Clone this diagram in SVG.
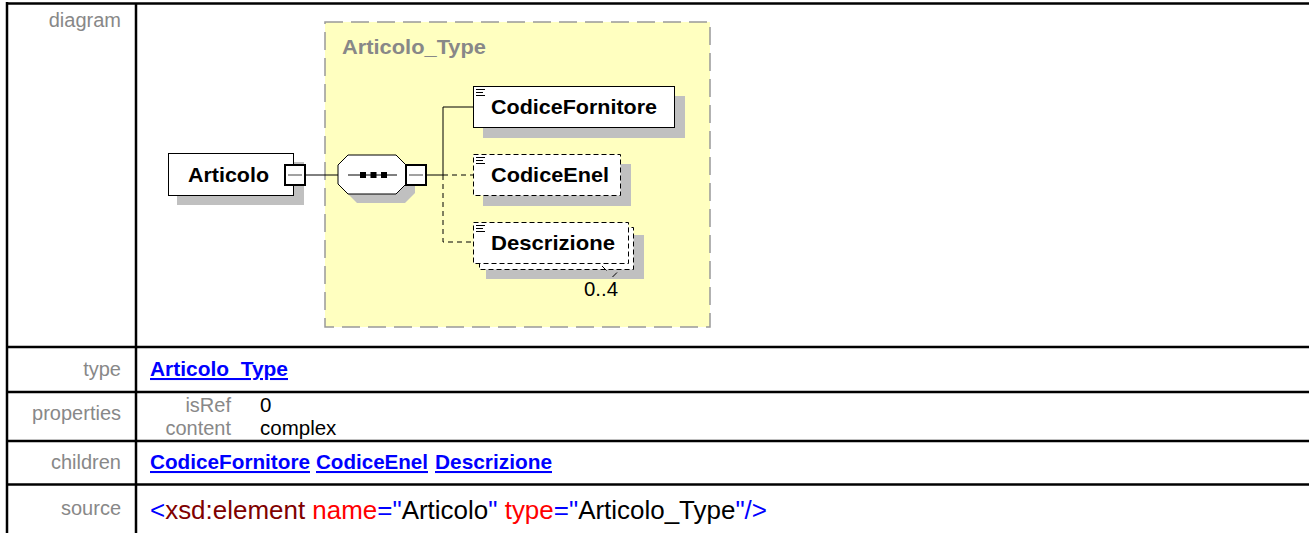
<svg xmlns="http://www.w3.org/2000/svg" width="1309" height="533" viewBox="0 0 1309 533">
<style>
.lbl{font-family:"Liberation Sans",Arial,sans-serif;font-size:20px;fill:#888;text-anchor:end}
.val{font-family:"Liberation Sans",Arial,sans-serif;font-size:20.5px;fill:#000}
.lnk{font-family:"Liberation Sans",Arial,sans-serif;font-size:20.5px;font-weight:bold;fill:#0000ff;text-decoration:underline}
.nt{font-family:"Liberation Sans",Arial,sans-serif;font-size:21px;font-weight:bold;fill:#000}
.src{font-family:"Liberation Sans",Arial,sans-serif;font-size:26px}
.grid{stroke:#000;stroke-width:2.5;fill:none}
.shadow{fill:#c0c0c0}
.box{fill:#fff;stroke:#000;stroke-width:1}
.dbox{fill:#fff;stroke:#000;stroke-width:1;stroke-dasharray:5,3}
.minus{fill:#fff;stroke:#000;stroke-width:2}
.ico{stroke:#000;stroke-width:1}
</style>
<rect x="0" y="0" width="1309" height="533" fill="#fff"/>
<g id="table" class="grid">
<line x1="6" y1="3.5" x2="1309" y2="3.5"/>
<line x1="7" y1="2" x2="7" y2="533"/>
<line x1="136" y1="3" x2="136" y2="533"/>
<line x1="7" y1="347" x2="1309" y2="347"/>
<line x1="7" y1="392" x2="1309" y2="392"/>
<line x1="7" y1="441" x2="1309" y2="441"/>
<line x1="7" y1="484.5" x2="1309" y2="484.5"/>
</g>
<g id="labels">
<text class="lbl" x="121" y="27">diagram</text>
<text class="lbl" x="121" y="376">type</text>
<text class="lbl" x="121" y="420">properties</text>
<text class="lbl" x="121" y="469">children</text>
<text class="lbl" x="121" y="515">source</text>
</g>
<g id="group-Articolo_Type">
<rect x="325" y="22" width="385" height="305" fill="#ffffc0" stroke="#999" stroke-width="1.5" stroke-dasharray="18,8"/>
<text class="nt" x="342" y="54" fill="#888" style="fill:#888" textLength="144" lengthAdjust="spacingAndGlyphs">Articolo_Type</text>
</g>
<g id="connectors" fill="none" stroke="#000" stroke-width="1">
<line x1="305" y1="175" x2="338" y2="175"/>
<path d="M426,175 H443 M443,175 V107 H473"/>
<path d="M443,175 H473 M443,175 V242 H473" stroke-dasharray="5,4"/>
</g>
<g id="node-Articolo">
<rect class="shadow" x="177" y="162" width="127" height="43"/>
<rect class="box" x="168.5" y="153.5" width="125" height="42"/>
<text class="nt" x="188" y="182" textLength="81" lengthAdjust="spacingAndGlyphs">Articolo</text>
<rect class="minus" x="285" y="165" width="20" height="20"/>
<line x1="288" y1="175" x2="302" y2="175" stroke="#444" stroke-width="1"/>
</g>
<g id="node-sequence">
<polygon class="shadow" points="357,164 405,164 415,174 415,193 405,203 357,203 347,193 347,174"/>
<polygon points="348,155 396,155 406,165 406,184 396,194 348,194 338,184 338,165" fill="#fff" stroke="#000" stroke-width="1"/>
<line x1="348" y1="175" x2="397" y2="175" stroke="#000" stroke-width="1"/>
<rect x="360" y="172" width="6" height="6" fill="#000"/>
<rect x="370.5" y="172" width="6" height="6" fill="#000"/>
<rect x="381" y="172" width="6" height="6" fill="#000"/>
<rect class="minus" x="406" y="165" width="20" height="20"/>
<line x1="409" y1="175" x2="423" y2="175" stroke="#444" stroke-width="1"/>
</g>
<g id="node-CodiceFornitore">
<rect class="shadow" x="483" y="96" width="202" height="42"/>
<rect class="box" x="473.5" y="86.5" width="201" height="41"/>
<path class="ico" d="M476,89.5 H485 M476,92.5 H483 M476,95.5 H485"/>
<text class="nt" x="491" y="114" textLength="166" lengthAdjust="spacingAndGlyphs">CodiceFornitore</text>
</g>
<g id="node-CodiceEnel">
<rect class="shadow" x="483" y="164" width="148" height="42"/>
<rect class="dbox" x="473.5" y="154.5" width="147" height="41"/>
<path class="ico" d="M476,157.5 H485 M476,160.5 H483 M476,163.5 H485"/>
<text class="nt" x="491" y="182" textLength="118" lengthAdjust="spacingAndGlyphs">CodiceEnel</text>
</g>
<g id="node-Descrizione">
<rect class="shadow" x="486" y="235" width="158" height="44"/>
<rect class="dbox" x="479.5" y="227.5" width="154" height="42"/>
<rect class="dbox" x="473.5" y="222.5" width="155" height="41"/>
<path class="ico" d="M476,225.5 H485 M476,228.5 H483 M476,231.5 H485"/>
<text class="nt" x="491" y="250" textLength="124" lengthAdjust="spacingAndGlyphs">Descrizione</text>
<path d="M602,266 L606.5,270.5 M612.5,277 L617,272.5" stroke="#000" stroke-width="1" fill="none"/>
<text class="val" x="584" y="296" textLength="34" lengthAdjust="spacingAndGlyphs">0..4</text>
</g>
<g id="values">
<text class="lnk" x="150" y="376" textLength="138" lengthAdjust="spacingAndGlyphs">Articolo_Type</text>
<text class="lbl" x="231" y="412">isRef</text>
<text class="val" x="260" y="412">0</text>
<text class="lbl" x="231" y="435">content</text>
<text class="val" x="260" y="435">complex</text>
<text class="lnk" x="150" y="469" textLength="160" lengthAdjust="spacingAndGlyphs">CodiceFornitore</text>
<text class="lnk" x="316" y="469" textLength="112" lengthAdjust="spacingAndGlyphs">CodiceEnel</text>
<text class="lnk" x="435" y="469" textLength="117" lengthAdjust="spacingAndGlyphs">Descrizione</text>
<text class="src" x="150" y="519" textLength="617" lengthAdjust="spacingAndGlyphs"><tspan fill="#0000ff">&lt;</tspan><tspan fill="#800000">xsd:element</tspan> <tspan fill="#ff0000">name</tspan><tspan fill="#0000ff">="</tspan><tspan fill="#000">Articolo</tspan><tspan fill="#0000ff">"</tspan> <tspan fill="#ff0000">type</tspan><tspan fill="#0000ff">="</tspan><tspan fill="#000">Articolo_Type</tspan><tspan fill="#0000ff">"/&gt;</tspan></text>
</g>
</svg>
